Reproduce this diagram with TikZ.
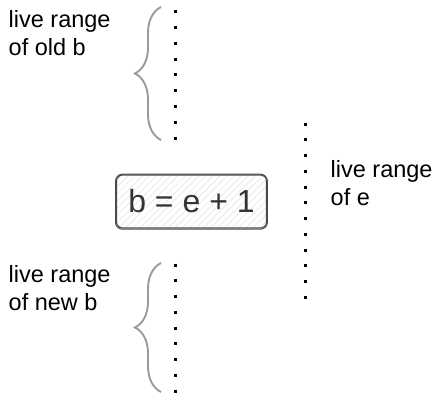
\documentclass[tikz,border=0pt]{standalone}
\usepackage{fontspec}
\setmainfont{Liberation Sans}
\usetikzlibrary{decorations.pathreplacing, patterns.meta}
\definecolor{bracegray}{HTML}{9A9A9A}
\definecolor{boxgray}{HTML}{4A4A4A}
\definecolor{eqgray}{HTML}{333333}

\begin{document}
\begin{tikzpicture}[
            x=1pt, y=-1pt,
            % Styles
            rangetext/.style={anchor=north west, inner sep=0pt, align=left,
              font=\fontsize{23.5}{28.5}\selectfont},
            lifeline/.style={line width=3pt, dash pattern=on 3pt off 12.75pt},
            bracket/.style={draw=bracegray, line width=1.9pt, decorate,
              decoration={brace, amplitude=26pt}},
            instr/.style={
              draw=boxgray, line width=1.1pt, rounded corners=6pt,
              minimum width=150pt, minimum height=53pt, inner sep=0pt,
              text=eqgray, font=\fontsize{32}{38}\selectfont,
              pattern={Lines[angle=45, distance=5pt, line width=0.5pt]},
              pattern color=gray!25
            },
            sketch/.style={draw=boxgray, line width=0.9pt, rounded corners=7pt}
          ]
          \useasboundingbox (0,0) rectangle (434,396);
          % 1. Live range of old b
          \coordinate (oldtop) at (175,10.5);
          \coordinate (oldbot) at (175,139.5);
          \draw[lifeline] (oldtop) -- (oldbot);
          \coordinate (oldbrtop) at (161,7);
          \coordinate (oldbrbot) at (161,140);
          \draw[bracket] (oldbrbot) -- (oldbrtop);
          \node[rangetext] (oldlbl) at (8.5,10) {live range\\of old b};
          % 2. The instruction
          \node[instr] (eq) at (191.5,201.5) {b = e + 1};
          \draw[sketch] ([shift={(-0.8,-0.6)}]eq.north west) rectangle ([shift={(0.7,1)}]eq.south east);
          % 3. Live range of e
          \coordinate (etop) at (305,122.5);
          \coordinate (ebot) at (305,300.5);
          \draw[lifeline] (etop) -- (ebot);
          \node[rangetext] (elbl) at (330.5,160) {live range\\of e};
          % 4. Live range of new b
          \coordinate (newtop) at (175,263.5);
          \coordinate (newbot) at (175,394.5);
          \draw[lifeline] (newtop) -- (newbot);
          \coordinate (newbrtop) at (161,263);
          \coordinate (newbrbot) at (161,392);
          \draw[bracket] (newbrbot) -- (newbrtop);
          \node[rangetext] (newlbl) at (8.5,265) {live range\\of new b};
        \end{tikzpicture}
\end{document}
